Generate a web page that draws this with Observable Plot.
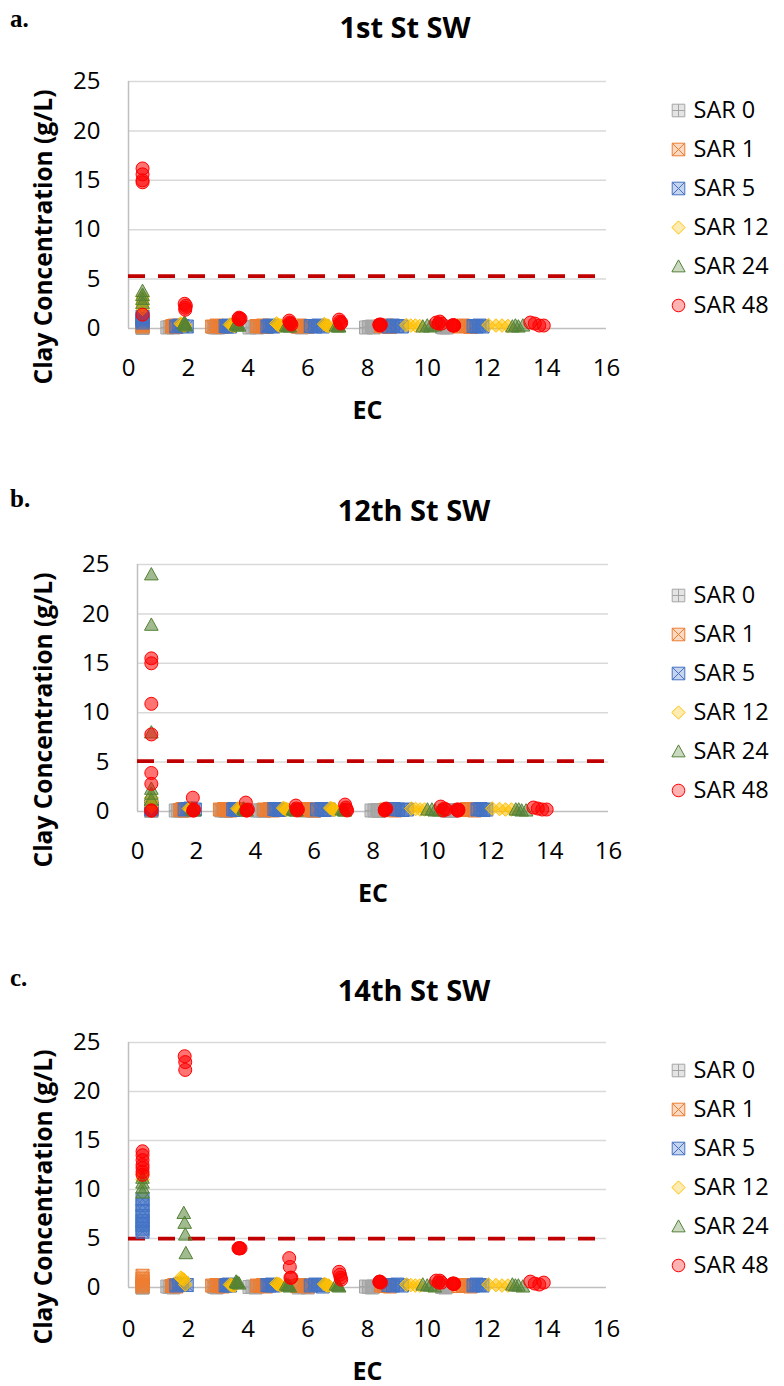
<!DOCTYPE html>
<html>
<head>
<meta charset="utf-8">
<script src="https://cdn.jsdelivr.net/npm/d3@7"></script>
<script src="https://cdn.jsdelivr.net/npm/@observablehq/plot@0.6"></script>
<style>
  html, body { margin: 0; padding: 0; background: #fff; }
  body { width: 784px; height: 1386px; position: relative; overflow: hidden; font-family: "Open Sans", sans-serif; color: #000; }
  .panel { position: absolute; left: 0; width: 784px; height: 425px; overflow: visible; }
  .panel > svg { position: absolute; left: 0; top: 0; }
  .letter { position: absolute; left: 10px; font-family: "Liberation Serif", "Times New Roman", serif; font-weight: bold; font-size: 25px; line-height: 1; }
  .title { position: absolute; font-family: "Open Sans", sans-serif; font-weight: bold; font-size: 29px; line-height: 1; transform: translateX(-50%); white-space: nowrap; }
</style>
</head>
<body>
<script>
// ---------------- data ----------------
const sarLabels = ["SAR 0", "SAR 1", "SAR 5", "SAR 12", "SAR 24", "SAR 48"];
const panelLetters = ["a.", "b.", "c."];
const panelTitles = ["1st St SW", "12th St SW", "14th St SW"];
const thresholds = [5.3, 5.1, 5.0];
const xTicks = [0, 2, 4, 6, 8, 10, 12, 14, 16];
const yTicks = [0, 5, 10, 15, 20, 25];
const xLabel = "EC";
const yLabel = "Clay Concentration (g/L)";

// EC of each measurement, per SAR series (same in the three panels)
const ecSar0  = [0.47,0.47,0.47,0.47,0.47,0.47,0.47,0.47, 1.3,1.38,1.45,1.5, 2.85,2.9,2.95,3.0, 4.05,4.15,4.25,4.3, 5.7,5.8,5.9,6.0, 7.95,8.05,8.15,8.2, 10.5,10.55,10.6,10.65];
const ecSar1  = [0.47,0.47,0.47,0.47,0.47,0.47,0.47,0.47, 1.45,1.5,1.55,1.6, 2.8,2.95,3.05,3.15, 4.3,4.4,4.5,4.6, 5.65,5.75,5.9,6.0, 8.45,8.55,8.65,8.75, 11.05,11.2,11.3,11.45];
const ecSar5  = [0.47,0.47,0.47,0.47,0.47,0.47,0.47,0.47, 1.6,1.7,1.8,1.95, 3.25,3.3,3.35,3.4, 4.65,4.72,4.8,4.85, 6.1,6.25,6.35,6.5, 8.7,8.85,9.0,9.15, 11.55,11.65,11.75,11.85];
const ecSar12 = [0.47,0.47,0.47,0.47,0.47,0.47,0.47,0.47, 1.75,1.8,1.85,1.9, 3.4,3.45,3.5,3.55, 4.95,5.0,5.05,5.1, 6.55,6.6,6.65,6.7, 9.3,9.45,9.6,9.75, 12.05,12.3,12.5,12.7];
const ecSar24 = [0.47,0.47,0.47,0.47,0.47,0.47,0.47,0.47, 1.85,1.88,1.9,1.92, 3.6,3.62,3.65,3.7, 5.28,5.32,5.36,5.4, 6.95,7.0,7.02,7.05, 9.85,10.0,10.1,10.25, 12.85,12.95,13.05,13.2];
const ecSar48 = [0.47,0.47,0.47,0.47,0.47,0.47,0.47,0.47, 1.88,1.9,1.9,1.92, 3.68,3.7,3.72,3.75, 5.38,5.4,5.42,5.45, 7.05,7.08,7.1,7.12, 8.4,8.4,8.42,8.45, 10.3,10.38,10.42,10.48, 10.85,10.87,10.9,10.9, 13.45,13.6,13.75,13.9];

// clay concentration (g/L); null = no measurement in that slot
// a. 1st St SW
const clayA0  = [0.05,0.1,0.15,0.2,null,null,null,null, 0.1,0.15,0.2,0.1, 0.15,0.1,0.2,0.1, 0.1,0.15,0.2,0.1, 0.15,0.1,0.2,0.15, 0.1,0.15,0.2,0.1, 0.15,0.1,0.2,0.1];
const clayA1  = [0.2,0.35,0.5,0.6,null,null,null,null, 0.2,0.25,0.3,0.15, 0.2,0.3,0.25,0.15, 0.25,0.2,0.3,0.15, 0.2,0.3,0.25,0.2, 0.25,0.2,0.3,0.15, 0.2,0.3,0.25,0.15];
const clayA5  = [0.6,0.8,1.0,1.2,null,null,null,null, 0.2,0.3,0.25,0.2, 0.25,0.2,0.3,0.2, 0.2,0.3,0.25,0.2, 0.25,0.2,0.3,0.2, 0.2,0.3,0.25,0.2, 0.25,0.2,0.3,0.2];
const clayA12 = [2.0,2.4,2.8,3.2,null,null,null,null, 0.5,0.4,0.3,0.3, 0.4,0.35,0.3,0.25, 0.5,0.4,0.3,0.3, 0.45,0.35,0.3,0.25, 0.35,0.3,0.3,0.25, 0.35,0.3,0.3,0.25];
const clayA24 = [2.6,3.0,3.4,3.8,null,null,null,null, 0.5,0.6,0.4,0.3, 0.4,0.5,0.3,0.3, 0.3,0.2,0.3,0.2, 0.3,0.2,0.3,0.2, 0.2,0.3,0.2,0.3, 0.2,0.3,0.2,0.3];
const clayA48 = [16.2,15.6,15.0,14.8,1.4,null,null,null, 2.5,2.1,1.9,2.3, 1.0,1.1,0.9,1.0, 0.8,0.6,0.5,0.4, 0.9,0.7,0.5,0.6, 0.4,0.35,0.3,0.4, 0.6,0.5,0.7,0.5, 0.3,0.35,0.3,0.3, 0.6,0.5,0.3,0.3];
// b. 12th St SW
const clayB0  = [0.05,0.1,0.1,0.15,null,null,null,null, 0.1,0.1,0.15,0.05, 0.1,0.15,0.1,0.05, 0.1,0.1,0.15,0.05, 0.1,0.15,0.1,0.05, 0.1,0.1,0.15,0.05, 0.1,0.15,0.1,0.05];
const clayB1  = [0.2,0.3,0.4,0.5,null,null,null,null, 0.15,0.2,0.25,0.1, 0.2,0.25,0.15,0.1, 0.2,0.15,0.25,0.1, 0.15,0.25,0.2,0.1, 0.2,0.15,0.25,0.1, 0.15,0.25,0.2,0.1];
const clayB5  = [0.2,0.3,0.4,0.5,null,null,null,null, 0.2,0.25,0.3,0.2, 0.2,0.25,0.2,0.15, 0.25,0.2,0.15,0.2, 0.2,0.25,0.15,0.2, 0.25,0.2,0.15,0.2, 0.2,0.25,0.15,0.2];
const clayB12 = [1.4,1.0,0.8,0.5,null,null,null,null, 0.3,0.25,0.2,0.2, 0.3,0.25,0.2,0.2, 0.35,0.3,0.2,0.2, 0.35,0.3,0.2,0.2, 0.3,0.25,0.2,0.2, 0.3,0.25,0.2,0.2];
const clayB24 = [24.0,18.9,8.0,2.3,1.8,1.2,null,null, 0.3,0.2,0.2,0.1, 0.3,0.2,0.2,0.1, 0.2,0.2,0.1,0.1, 0.2,0.2,0.1,0.1, 0.2,0.2,0.1,0.1, 0.2,0.2,0.1,0.1];
const clayB48 = [15.5,15.0,10.9,7.8,3.9,2.8,0.1,0.1, 1.4,0.1,0.1,0.2, 0.9,0.1,0.1,0.2, 0.6,0.3,0.1,0.2, 0.7,0.4,0.2,0.1, 0.2,0.1,0.2,0.3, 0.5,0.1,0.3,0.2, 0.2,0.1,0.2,0.1, 0.4,0.3,0.2,0.2];
// c. 14th St SW
const clayC0  = [0.0,0.05,0.1,0.0,null,null,null,null, 0.1,0.05,0.1,0.0, 0.1,0.05,0.0,0.1, 0.05,0.1,0.0,0.1, 0.0,0.1,0.05,0.0, 0.1,0.05,0.0,0.1, 0.05,0.1,0.0,0.1];
const clayC1  = [1.2,0.9,0.6,0.3,0.1,null,null,null, 0.15,0.2,0.25,0.1, 0.2,0.25,0.15,0.1, 0.2,0.15,0.25,0.1, 0.15,0.25,0.2,0.1, 0.2,0.15,0.25,0.1, 0.15,0.25,0.2,0.1];
const clayC5  = [9.0,8.4,7.8,7.3,6.8,6.4,6.0,5.7, 0.2,0.3,0.4,0.25, 0.2,0.25,0.3,0.2, 0.25,0.2,0.3,0.2, 0.2,0.3,0.25,0.1, 0.25,0.2,0.3,0.2, 0.2,0.3,0.25,0.2];
const clayC12 = [11.5,11.0,null,null,null,null,null,null, 1.0,0.9,0.8,0.3, 0.3,0.25,0.2,0.2, 0.4,0.35,0.3,0.2, 0.35,0.3,0.2,0.2, 0.3,0.25,0.2,0.2, 0.3,0.25,0.2,0.2];
const clayC24 = [11.2,10.7,10.2,9.7,null,null,null,null, 7.6,6.6,5.4,3.5, 0.6,0.5,0.5,0.4, 0.3,0.2,0.2,0.1, 0.3,0.2,0.2,0.1, 0.3,0.2,0.2,0.1, 0.3,0.2,0.2,0.1];
const clayC48 = [13.9,13.5,13.0,12.5,12.2,11.8,11.5,null, 23.6,23.0,22.2,null, 4.0,4.0,4.0,4.0, 3.0,2.1,1.0,1.0, 1.6,1.3,1.0,0.8, 0.6,0.55,0.6,0.5, 0.7,0.5,0.7,0.5, 0.4,0.4,0.35,0.4, 0.6,0.4,0.3,0.5];

const ecBySar = [ecSar0, ecSar1, ecSar5, ecSar12, ecSar24, ecSar48];
const clayByPanel = [
  [clayA0, clayA1, clayA5, clayA12, clayA24, clayA48],
  [clayB0, clayB1, clayB5, clayB12, clayB24, clayB48],
  [clayC0, clayC1, clayC5, clayC12, clayC24, clayC48]
];

// ---------------- styles ----------------
function makeSymbol(fn) { return { draw(ctx, size) { fn(ctx, Math.sqrt(size / Math.PI)); } }; }
const squarePlus = makeSymbol((c, r) => {
  c.moveTo(-r, -r); c.lineTo(r, -r); c.lineTo(r, r); c.lineTo(-r, r); c.closePath();
  c.moveTo(0, -r); c.lineTo(0, r); c.moveTo(-r, 0); c.lineTo(r, 0);
});
const squareX = makeSymbol((c, r) => {
  c.moveTo(-r, -r); c.lineTo(r, -r); c.lineTo(r, r); c.lineTo(-r, r); c.closePath();
  c.moveTo(-r, -r); c.lineTo(r, r); c.moveTo(r, -r); c.lineTo(-r, r);
});
const diamond = makeSymbol((c, r) => {
  const h = r * 1.05;
  c.moveTo(0, -h); c.lineTo(h, 0); c.lineTo(0, h); c.lineTo(-h, 0); c.closePath();
});
const triangle = makeSymbol((c, r) => {
  c.moveTo(0, -r * 1.05); c.lineTo(r * 1.05, r * 0.85); c.lineTo(-r * 1.05, r * 0.85); c.closePath();
});
const seriesStyle = [
  { symbol: squarePlus, stroke: "#a5a5a5", fill: "#a5a5a5" },
  { symbol: squareX,    stroke: "#ed7d31", fill: "#ed7d31" },
  { symbol: squareX,    stroke: "#4472c4", fill: "#4472c4" },
  { symbol: diamond,    stroke: "#ffc000", fill: "#ffc000" },
  { symbol: triangle,   stroke: "#548235", fill: "#548235" },
  { symbol: "circle",   stroke: "#ff0000", fill: "#ff0000" }
];
const R = 6.5, FILL_OP = 0.55;
const FONT = "Open Sans";
const layout = [
  { top: 0,   ml: 128, mr: 178, mt: 81, mb: 112, pad: 30, ecDy: 82, legendTop: 64, titleX: 405, titleTop: 12, letterTop: 6 },
  { top: 482, ml: 137, mr: 176, mt: 82, mb: 111, pad: 30, ecDy: 82, legendTop: 67, titleX: 414, titleTop: 13, letterTop: 4 },
  { top: 961, ml: 128, mr: 178, mt: 81, mb: 114, pad: 32, ecDy: 84, legendTop: 63, titleX: 414, titleTop: 14, letterTop: 4 }
];

// ---------------- drawing ----------------
layout.forEach((L, p) => {
  const panel = document.createElement("div");
  panel.className = "panel";
  panel.style.top = L.top + "px";
  document.body.appendChild(panel);

  const seriesMarks = ecBySar.map((ecs, k) => {
    const rows = ecs.map((ec, j) => ({ ec, clay: clayByPanel[p][k][j] })).filter(d => d.clay != null);
    const s = seriesStyle[k];
    return Plot.dot(rows, { x: "ec", y: "clay", symbol: s.symbol, r: R, fill: s.fill, fillOpacity: FILL_OP, stroke: s.stroke, strokeWidth: 1 });
  });

  const chart = Plot.plot({
    width: 784, height: 425,
    marginLeft: L.ml, marginRight: L.mr, marginTop: L.mt, marginBottom: 425 - 440 + L.mb,
    style: { fontFamily: FONT, color: "#000", background: "transparent", overflow: "visible" },
    x: { domain: [0, 16] },
    y: { domain: [0, 25] },
    marks: [
      Plot.ruleY(yTicks.filter(t => t > 0), { stroke: "#d9d9d9", strokeWidth: 1.5 }),
      Plot.ruleY([0], { stroke: "#bfbfbf", strokeWidth: 1.5 }),
      Plot.ruleX([0], { stroke: "#bfbfbf", strokeWidth: 1.5 }),
      Plot.axisX(xTicks, { tickSize: 0, tickPadding: L.pad, fontSize: 24, label: null }),
      Plot.axisY(yTicks, { tickSize: 0, tickPadding: 28, fontSize: 24, label: null }),
      Plot.ruleY([thresholds[p]], { stroke: "#c00000", strokeWidth: 3.75, strokeDasharray: "17,13" }),
      ...seriesMarks,
      Plot.text([xLabel], { text: d => d, frameAnchor: "bottom", textAnchor: "middle", lineAnchor: "middle", dy: L.ecDy, fontSize: 25, fontWeight: "bold" }),
      Plot.text([yLabel], { text: d => d, frameAnchor: "left", textAnchor: "middle", lineAnchor: "middle", dx: 44 - L.ml, dy: 32, rotate: -90, fontSize: 24.5, fontWeight: "bold" })
    ]
  });
  panel.appendChild(chart);

  const letter = document.createElement("div");
  letter.className = "letter";
  letter.textContent = panelLetters[p];
  letter.style.top = L.letterTop + "px";
  panel.appendChild(letter);

  const title = document.createElement("div");
  title.className = "title";
  title.textContent = panelTitles[p];
  title.style.left = L.titleX + "px";
  title.style.top = L.titleTop + "px";
  panel.appendChild(title);

  const legend = Plot.plot({
    width: 116, height: 290, margin: 0,
    style: { fontFamily: FONT, color: "#000", background: "transparent", overflow: "visible" },
    y: { type: "point", domain: sarLabels, range: [24, 262], axis: null },
    marks: [
      ...sarLabels.map((lab, k) => Plot.dot([lab], { y: d => d, frameAnchor: "left", dx: 10, symbol: seriesStyle[k].symbol, r: 6.3, fill: seriesStyle[k].fill, fillOpacity: 0.3, stroke: seriesStyle[k].stroke, strokeWidth: 1 })),
      Plot.text(sarLabels, { y: d => d, text: d => d, frameAnchor: "left", textAnchor: "start", dx: 25, fontSize: 23.5 })
    ]
  });
  legend.style.position = "absolute";
  legend.style.left = "668px";
  legend.style.top = L.legendTop + "px";
  panel.appendChild(legend);
});
</script>
</body>
</html>
